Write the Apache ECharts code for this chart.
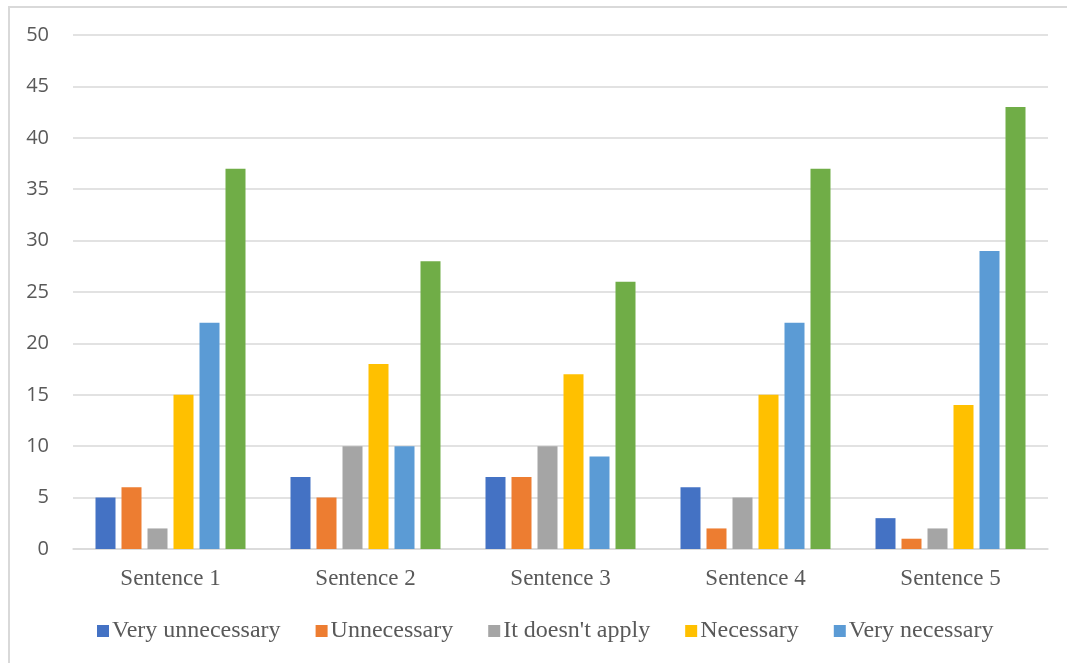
<!DOCTYPE html>
<html>
<head>
<meta charset="utf-8">
<script src="https://cdn.jsdelivr.net/npm/echarts@6/dist/echarts.min.js"></script>
<style>
  html, body { margin: 0; padding: 0; background: #ffffff; }
  #chart { width: 1067px; height: 663px; }
</style>
</head>
<body>
<div id="chart"></div>
<script>
// Survey responses per sentence
const categories = ['Sentence 1', 'Sentence 2', 'Sentence 3', 'Sentence 4', 'Sentence 5'];
const veryUnnecessary = [5, 7, 7, 6, 3];
const unnecessary = [6, 5, 7, 2, 1];
const doesNotApply = [2, 10, 10, 5, 2];
const necessary = [15, 18, 17, 15, 14];
const veryNecessary = [22, 10, 9, 22, 29];
const totalNecessary = [37, 28, 26, 37, 43];

const seriesNames = ['Very unnecessary', 'Unnecessary', "It doesn't apply", 'Necessary', 'Very necessary', 'Totally necessary'];
const seriesData = [veryUnnecessary, unnecessary, doesNotApply, necessary, veryNecessary, totalNecessary];
const colors = ['#4472C4', '#ED7D31', '#A5A5A5', '#FFC000', '#5B9BD5', '#70AD47'];

const chart = echarts.init(document.getElementById('chart'));

chart.setOption({
  animation: false,
  color: colors,
  grid: { left: 73, right: 19, top: 35, bottom: 114, containLabel: false },
  graphic: [
    { type: 'line', silent: true, shape: { x1: 8, y1: 7, x2: 1067, y2: 7 }, style: { stroke: '#d9d9d9', lineWidth: 2 } },
    { type: 'line', silent: true, shape: { x1: 9, y1: 6, x2: 9, y2: 663 }, style: { stroke: '#d9d9d9', lineWidth: 2 } }
  ],
  legend: {
    data: seriesNames.slice(0, 5),
    bottom: 15,
    left: 92,
    icon: 'rect',
    itemWidth: 12,
    itemHeight: 12,
    itemGap: 35,
    textStyle: {
      fontFamily: 'Liberation Serif',
      fontSize: 24,
      color: '#595959',
      padding: [0, 0, 0, -2]
    }
  },
  xAxis: {
    type: 'category',
    data: categories,
    axisLine: { show: true, lineStyle: { color: '#d9d9d9', width: 1.5 } },
    axisTick: { show: false },
    axisLabel: {
      fontFamily: 'Liberation Serif',
      fontSize: 23,
      color: '#595959',
      margin: 18
    }
  },
  yAxis: {
    type: 'value',
    min: 0,
    max: 50,
    interval: 5,
    axisLine: { show: false },
    axisTick: { show: false },
    splitLine: { lineStyle: { color: '#d9d9d9', width: 1.5 } },
    axisLabel: {
      fontFamily: 'Open Sans',
      fontSize: 20,
      color: '#595959',
      margin: 24
    }
  },
  series: seriesData.map((data, i) => ({
    name: seriesNames[i],
    type: 'bar',
    data: data,
    barWidth: 20,
    barGap: '30%',
    itemStyle: { color: colors[i] }
  }))
});
</script>
</body>
</html>
